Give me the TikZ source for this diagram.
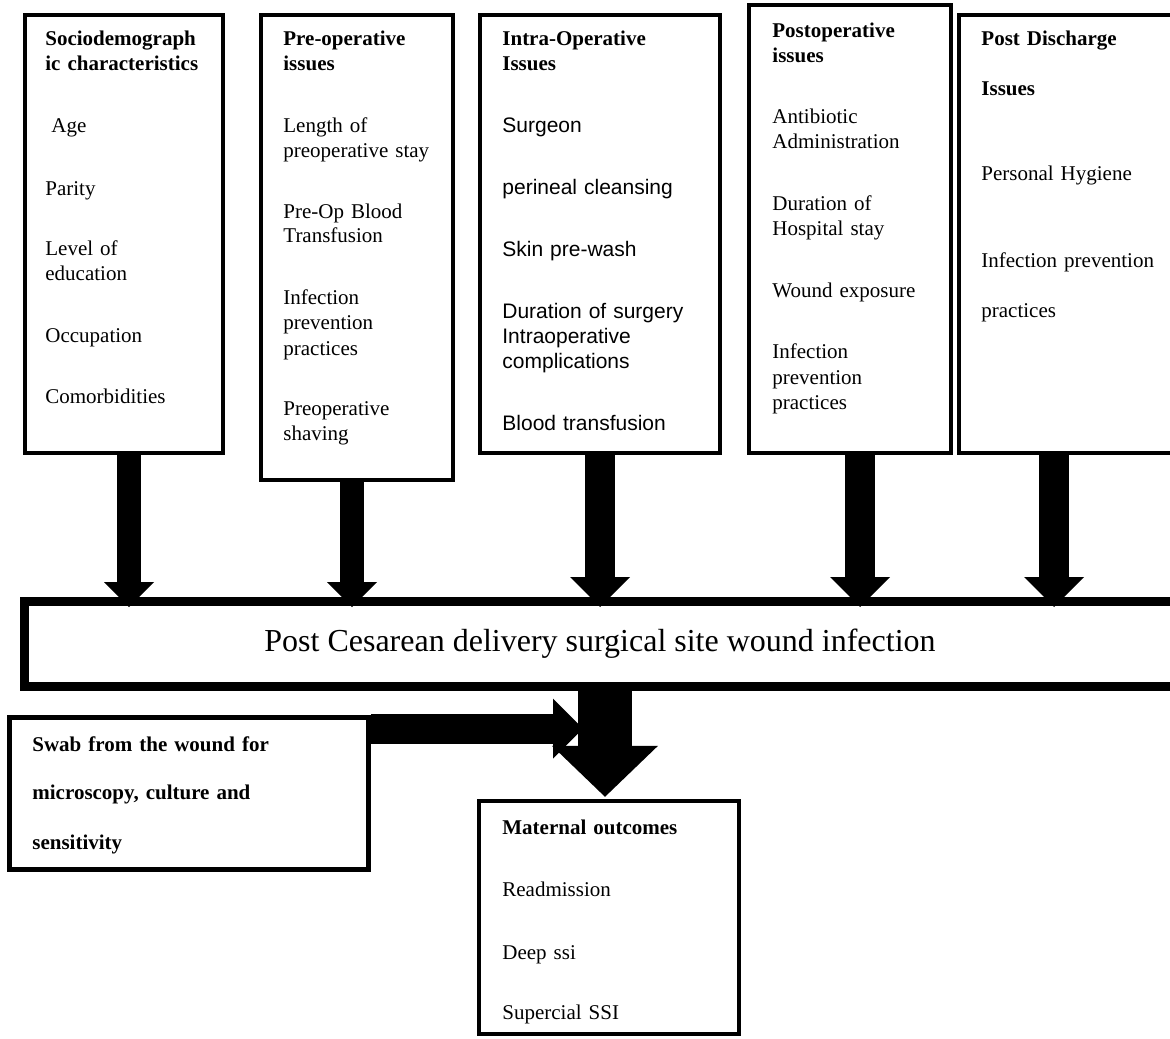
\documentclass[tikz,border=0pt]{standalone}
\usepackage{fontspec}
\setmainfont{Liberation Serif}
\newfontfamily\arialfont{Liberation Sans}
\usepackage{tikz}
\usetikzlibrary{arrows.meta}

\tikzset{
  box/.style={draw, line width=2.2pt, fill=white, inner sep=0pt},
  txt/.style={anchor=base west, align=left, inner sep=0pt, text width=200pt,
    font=\fontsize{10.5}{12.5}\selectfont},
  flow/.style={line width=12pt, -{Triangle[length=12.5pt,width=25pt,line width=0pt]}},
  wideflow/.style={line width=15pt, -{Triangle[length=15pt,width=30pt,line width=0pt]}},
  bigflow/.style={line width=27pt, -{Triangle[length=25.5pt,width=53pt,line width=0pt]}}
}

\begin{document}
\begin{tikzpicture}[x=0.5pt,y=-0.5pt]
  \clip (0,0) rectangle (1170,1038);
  % factor boxes
  \node[box, minimum width=98.8pt, minimum height=218.8pt] (socio) at (124,234) {};
  \node[box, minimum width=95.8pt, minimum height=232.3pt] (preop) at (357,247.5) {};
  \node[box, minimum width=119.8pt, minimum height=218.8pt] (intra) at (600,234) {};
  \node[box, minimum width=100.8pt, minimum height=223.8pt] (postop) at (850,229) {};
  \node[box, minimum width=109.5pt, minimum height=218.8pt] (postdis) at (1068.5,234) {};

  \node[txt] (socio-t) at (45,46) {\textbf{Sociodemograph}\\\textbf{ic characteristics}\\[18.5pt]
    \hspace{3pt}Age\\[19pt]Parity\\[17pt]Level of\\education\\[18.5pt]Occupation\\[18pt]Comorbidities};
  \node[txt] (preop-t) at (283,46) {\textbf{Pre-operative}\\\textbf{issues}\\[18.5pt]
    Length of\\preoperative stay\\[17.5pt]Pre-Op Blood\\Transfusion\\[18.5pt]
    Infection\\prevention\\practices\\[17.5pt]Preoperative\\shaving};
  \node[txt] (intra-t) at (502,46) {\textbf{Intra-Operative}\\\textbf{Issues}\\[18.5pt]
    {\arialfont Surgeon}\\[18pt]{\arialfont perineal cleansing}\\[18.5pt]
    {\arialfont Skin pre-wash}\\[18.5pt]{\arialfont Duration of surgery}\\
    {\arialfont Intraoperative}\\{\arialfont complications}\\[18.5pt]
    {\arialfont Blood transfusion}};
  \node[txt] (postop-t) at (772,38) {\textbf{Postoperative}\\\textbf{issues}\\[18pt]
    Antibiotic\\Administration\\[18.5pt]Duration of\\Hospital stay\\[18.5pt]
    Wound exposure\\[18pt]Infection\\prevention\\practices};
  \node[txt] (postdis-t) at (981,46) {\textbf{Post Discharge}\\[12.5pt]\textbf{Issues}\\[30pt]
    Personal Hygiene\\[31pt]Infection prevention\\[12pt]practices};

  % outcome
  \node[box, line width=4.5pt, minimum width=575.5pt, minimum height=42.5pt,
    font=\fontsize{16}{19}\selectfont] (infect) at (600,644)
    {Post Cesarean delivery surgical site wound infection};
  \node[box, line width=2.5pt, minimum width=179.5pt, minimum height=76pt] (swab) at (189,793.5) {};
  \node[box, minimum width=130pt, minimum height=116.5pt] (maternal) at (609,917.5) {};

  \node[txt] (swab-t) at (32,751) {\textbf{Swab from the wound for}\\[11.5pt]
    \textbf{microscopy, culture and}\\[12.5pt]\textbf{sensitivity}};
  \node[txt] (maternal-t) at (502,834) {\textbf{Maternal outcomes}\\[18.5pt]
    Readmission\\[19pt]Deep ssi\\[17.5pt]Supercial SSI};

  \foreach \from/\dx/\sty in {socio/2.5pt/flow,preop/-2.5pt/flow,intra/0pt/wideflow,
      postop/5pt/wideflow,postdis/-7.25pt/wideflow}
    \draw[\sty] ([xshift=\dx]\from.south) -- ([xshift=\dx,yshift=-5pt]\from.south |- infect.north);

  \coordinate (meet) at (583,0);
  \draw[wideflow] ([yshift=-6.75pt]swab.north east) -- ([yshift=-6.75pt]swab.north east -| meet);
  \draw[bigflow] ([xshift=-2pt]maternal.north |- infect.south) -- ([xshift=-2pt,yshift=1pt]maternal.north);
\end{tikzpicture}
\end{document}
